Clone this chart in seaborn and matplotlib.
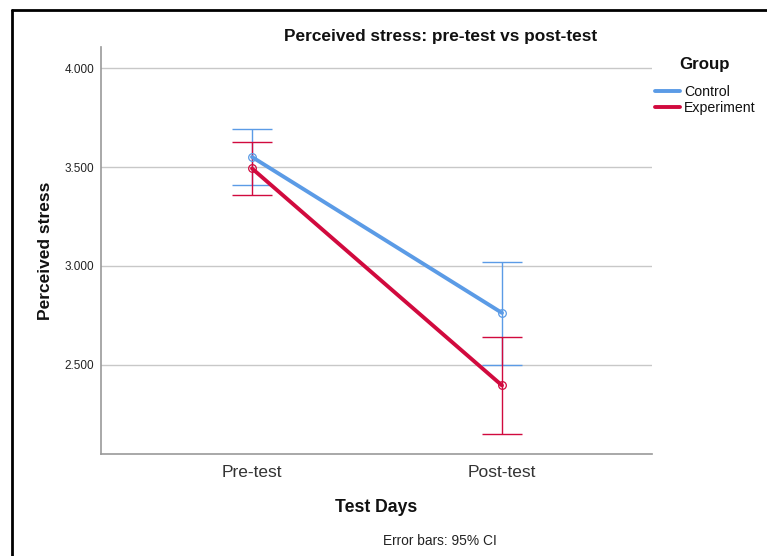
import matplotlib
matplotlib.use("Agg")
import matplotlib.pyplot as plt
from matplotlib.lines import Line2D
import numpy as np
import pandas as pd
import seaborn as sns

# ---- data ----
days = ["Pre-test", "Post-test"]
groups = ["Control", "Experiment"]
control_mean = [3.551, 2.762]
control_low = [3.407, 2.500]
control_high = [3.691, 3.022]
experiment_mean = [3.493, 2.395]
experiment_low = [3.361, 2.150]
experiment_high = [3.628, 2.640]
yticks = [2.5, 3.0, 3.5, 4.0]
colors = {"Control": "#5B9BE6", "Experiment": "#D10A3E"}

df = pd.DataFrame({
    "day": days * 2,
    "group": ["Control"] * 2 + ["Experiment"] * 2,
    "mean": control_mean + experiment_mean,
    "low": control_low + experiment_low,
    "high": control_high + experiment_high,
})

sns.set_theme(style="white")
plt.rcParams["font.family"] = ["Liberation Sans", "DejaVu Sans"]

fig = plt.figure(figsize=(7.67, 5.56), dpi=100)
ax = fig.add_axes([101 / 767, 1 - 454.3 / 556, (652 - 101) / 767, (454.3 - 47.3) / 556])

sns.lineplot(data=df, x="day", y="mean", hue="group", palette=colors,
             sort=False, linewidth=2.8, marker="o", markersize=5.5,
             markerfacecolor="none", markeredgewidth=0.9,
             legend=False, ax=ax, zorder=3)
for ln in ax.lines:
    ln.set_markeredgecolor(ln.get_color())

for g in groups:
    sub = df[df["group"] == g]
    m = sub["mean"].to_numpy()
    yerr = np.vstack([m - sub["low"].to_numpy(), sub["high"].to_numpy() - m])
    ax.errorbar(sub["day"], m, yerr=yerr, fmt="none", ecolor=colors[g],
                elinewidth=1.0, capsize=14.5, capthick=1.0, zorder=2)

ax.set_xlim(-0.604, 1.6)
ax.set_ylim(2.0466, 4.106)
ax.set_yticks(yticks)
ax.set_yticklabels([f"{v:.3f}" for v in yticks], fontsize=8.5, color="#222222")
ax.tick_params(axis="x", labelsize=12.5, colors="#333333", length=0, pad=7.5)
ax.tick_params(axis="y", length=0, pad=5)
ax.yaxis.grid(True, color="#c8c8c8", linewidth=1.0)
ax.set_axisbelow(True)
for s in ["top", "right"]:
    ax.spines[s].set_visible(False)
for s in ["left", "bottom"]:
    ax.spines[s].set_color("#999999")
    ax.spines[s].set_linewidth(1.2)
ax.set_xlabel("")
ax.set_ylabel("Perceived stress", fontsize=12.5, fontweight="bold", labelpad=8.5, color="#111111")

fig.text(441 / 767, 1 - 37 / 556, "Perceived stress: pre-test vs post-test",
         ha="center", va="center", fontsize=12.4, fontweight="bold", color="#111111")
fig.text(376 / 767, 1 - 507 / 556, "Test Days", ha="center", va="center",
         fontsize=12.7, fontweight="bold", color="#111111")
fig.text(440 / 767, 1 - 541 / 556, "Error bars: 95% CI", ha="center", va="center",
         fontsize=9.9, color="#222222")

# legend
fig.text(704.5 / 767, 1 - 64 / 556, "Group", ha="center", va="center",
         fontsize=12.2, fontweight="bold", color="#111111")
handles = [Line2D([0], [0], color=colors[g], linewidth=2.8) for g in groups]
leg = fig.legend(handles, groups, loc="upper left", bbox_to_anchor=(655 / 767, 1 - 84.5 / 556),
                 frameon=False, fontsize=10.2, handlelength=1.75,
                 handletextpad=0.28, labelspacing=0.2, borderaxespad=0, borderpad=0)
for t in leg.get_texts():
    t.set_color("#111111")

# screenshot frame lines (top and left)
fig.add_artist(Line2D([12 / 767, 1], [1 - 10 / 556] * 2, color="black", linewidth=2.0))
fig.add_artist(Line2D([12 / 767] * 2, [0, 1 - 10 / 556], color="black", linewidth=2.0))

fig.savefig("out.png", dpi=100, facecolor="white")
